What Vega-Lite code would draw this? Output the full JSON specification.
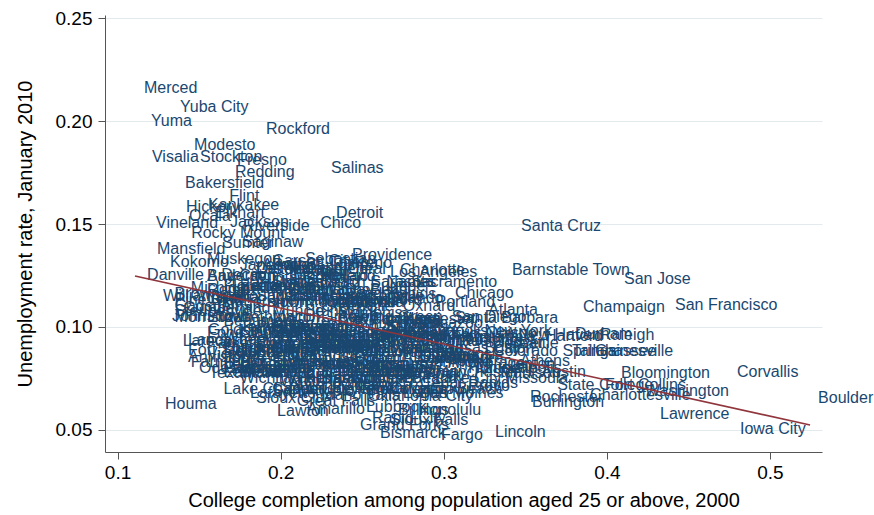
{
"$schema": "https://vega.github.io/schema/vega-lite/v6.json",
"width": 717, "height": 437,
"autosize": {"type": "none"},
"padding": {"left": 105, "top": 15, "right": 52, "bottom": 63},
"background": "white",
"config": {"view": {"stroke": null}, "font": "Liberation Sans"},
"layer": [
{"data": {"values": [
{"c":"Merced","x":0.1113,"y":0.2160},{"c":"Yuba City","x":0.1334,"y":0.2068},{"c":"Yuma","x":0.1156,"y":0.2000},{"c":"Rockford","x":0.1861,"y":0.1961},{"c":"Modesto","x":0.1420,"y":0.1883},{"c":"Visalia","x":0.1162,"y":0.1825},{"c":"Stockton","x":0.1457,"y":0.1825},{"c":"Fresno","x":0.1684,"y":0.1811},{"c":"Redding","x":0.1671,"y":0.1752},{"c":"Salinas","x":0.2260,"y":0.1772},{"c":"Bakersfield","x":0.1365,"y":0.1699},{"c":"Flint","x":0.1635,"y":0.1636},{"c":"Kankakee","x":0.1506,"y":0.1592},{"c":"Hickory","x":0.1371,"y":0.1583},{"c":"Ocala","x":0.1389,"y":0.1539},{"c":"Elkhart","x":0.1549,"y":0.1553},{"c":"Vineland","x":0.1187,"y":0.1505},{"c":"Jackson","x":0.1641,"y":0.1510},{"c":"Riverside","x":0.1720,"y":0.1490},{"c":"Rocky Mount","x":0.1402,"y":0.1456},{"c":"Detroit","x":0.2291,"y":0.1553},{"c":"Chico","x":0.2193,"y":0.1505},{"c":"Santa Cruz","x":0.3425,"y":0.1490},{"c":"Barnstable Town","x":0.3369,"y":0.1277},{"c":"San Jose","x":0.4056,"y":0.1233},{"c":"Champaign","x":0.3805,"y":0.1097},{"c":"San Francisco","x":0.4369,"y":0.1107},{"c":"Corvallis","x":0.4749,"y":0.0782},{"c":"Boulder","x":0.5246,"y":0.0655},{"c":"Lawrence","x":0.4277,"y":0.0578},{"c":"Iowa City","x":0.4767,"y":0.0505},{"c":"Lincoln","x":0.3265,"y":0.0490},{"c":"Fargo","x":0.2934,"y":0.0476},{"c":"Bismarck","x":0.2560,"y":0.0485},{"c":"Grand Forks","x":0.2438,"y":0.0524},{"c":"Sioux Falls","x":0.2622,"y":0.0549},{"c":"Rapid City","x":0.2511,"y":0.0558},{"c":"Lubbock","x":0.2474,"y":0.0612},{"c":"Honolulu","x":0.2793,"y":0.0597},{"c":"Billings","x":0.2671,"y":0.0597},{"c":"Lawton","x":0.1929,"y":0.0592},{"c":"Amarillo","x":0.2113,"y":0.0602},{"c":"Houma","x":0.1242,"y":0.0626},{"c":"Lafayette","x":0.1763,"y":0.0680},{"c":"Sioux City","x":0.1800,"y":0.0655},{"c":"Oklahoma City","x":0.2487,"y":0.0665},{"c":"Waco","x":0.1947,"y":0.0738},{"c":"Texarkana","x":0.1512,"y":0.0777},{"c":"Provo","x":0.3100,"y":0.0714},{"c":"Cedar Rapids","x":0.2806,"y":0.0728},{"c":"Albany","x":0.2793,"y":0.0782},{"c":"Anchorage","x":0.2977,"y":0.0825},{"c":"Athens","x":0.3419,"y":0.0835},{"c":"Missoula","x":0.3327,"y":0.0752},{"c":"Madison","x":0.3296,"y":0.0777},{"c":"Bloomington","x":0.4038,"y":0.0777},{"c":"State College","x":0.3646,"y":0.0718},{"c":"Fort Collins","x":0.3940,"y":0.0718},{"c":"Rochester","x":0.3480,"y":0.0660},{"c":"Burlington","x":0.3492,"y":0.0636},{"c":"Charlottesville","x":0.3848,"y":0.0670},{"c":"Washington","x":0.4185,"y":0.0689},{"c":"New Haven","x":0.3406,"y":0.0961},{"c":"Raleigh","x":0.3909,"y":0.0961},{"c":"Durham","x":0.3756,"y":0.0966},{"c":"Hartford","x":0.3572,"y":0.0956},{"c":"Gainesville","x":0.3878,"y":0.0883},{"c":"Tallahassee","x":0.3737,"y":0.0883},{"c":"Colorado Springs","x":0.3253,"y":0.0883},{"c":"Santa Barbara","x":0.3020,"y":0.1044},{"c":"Atlanta","x":0.3223,"y":0.1083},{"c":"Chicago","x":0.3020,"y":0.1165},{"c":"Providence","x":0.2389,"y":0.1350},{"c":"Charlotte","x":0.2683,"y":0.1277},{"c":"Los Angeles","x":0.2622,"y":0.1267},{"c":"Tampa","x":0.2254,"y":0.1311},{"c":"Mansfield","x":0.1193,"y":0.1379},{"c":"Saginaw","x":0.1714,"y":0.1413},{"c":"Sumter","x":0.1592,"y":0.1408},{"c":"Danville","x":0.1132,"y":0.1252},{"c":"Decatur","x":0.1586,"y":0.1252},{"c":"Mobile","x":0.2027,"y":0.1252},{"c":"Altoona","x":0.1837,"y":0.1301},{"c":"Kokomo","x":0.1273,"y":0.1316},{"c":"Williamsport","x":0.1230,"y":0.1150},{"c":"Johnstown","x":0.1285,"y":0.1053},{"c":"Goldsboro","x":0.1506,"y":0.0985},{"c":"Lancaster","x":0.1383,"y":0.0937},{"c":"Fort Smith","x":0.1383,"y":0.0888},{"c":"Anniston","x":0.1383,"y":0.0854},{"c":"Cumberland","x":0.1353,"y":0.1092},{"c":"Allentown","x":0.1776,"y":0.1189},
{"c":"Abilene","x":0.20,"y":0.072},{"c":"Akron","x":0.24,"y":0.112},{"c":"Albuquerque","x":0.27,"y":0.085},{"c":"Alexandria","x":0.17,"y":0.078},{"c":"Anderson","x":0.15,"y":0.125},{"c":"Appleton","x":0.21,"y":0.092},{"c":"Asheville","x":0.24,"y":0.088},{"c":"Atlantic City","x":0.19,"y":0.118},{"c":"Augusta","x":0.20,"y":0.096},{"c":"Austin","x":0.355,"y":0.078},{"c":"Baltimore","x":0.29,"y":0.085},{"c":"Bangor","x":0.21,"y":0.092},{"c":"Baton Rouge","x":0.22,"y":0.078},{"c":"Battle Creek","x":0.17,"y":0.120},{"c":"Bay City","x":0.15,"y":0.125},{"c":"Beaumont","x":0.16,"y":0.103},{"c":"Bellingham","x":0.27,"y":0.095},{"c":"Bend","x":0.25,"y":0.118},{"c":"Binghamton","x":0.23,"y":0.090},{"c":"Birmingham","x":0.24,"y":0.102},{"c":"Boise City","x":0.26,"y":0.098},{"c":"Boston","x":0.32,"y":0.090},{"c":"Bowling Green","x":0.23,"y":0.105},{"c":"Bremerton","x":0.25,"y":0.078},{"c":"Brownsville","x":0.13,"y":0.116},{"c":"Brunswick","x":0.21,"y":0.108},{"c":"Buffalo","x":0.24,"y":0.088},{"c":"Canton","x":0.18,"y":0.112},{"c":"Cape Coral","x":0.21,"y":0.128},{"c":"Carson City","x":0.19,"y":0.132},{"c":"Casper","x":0.19,"y":0.070},{"c":"Charleston","x":0.25,"y":0.095},{"c":"Chattanooga","x":0.20,"y":0.092},{"c":"Cheyenne","x":0.22,"y":0.070},{"c":"Cincinnati","x":0.25,"y":0.104},{"c":"Clarksville","x":0.17,"y":0.097},{"c":"Cleveland","x":0.23,"y":0.104},{"c":"Coeur d'Alene","x":0.19,"y":0.128},{"c":"Columbia","x":0.31,"y":0.095},{"c":"Columbus","x":0.28,"y":0.094},{"c":"Corpus Christi","x":0.18,"y":0.086},{"c":"Dallas","x":0.29,"y":0.086},{"c":"Davenport","x":0.21,"y":0.089},{"c":"Dayton","x":0.23,"y":0.113},{"c":"Deltona","x":0.18,"y":0.128},{"c":"Denver","x":0.325,"y":0.092},{"c":"Des Moines","x":0.28,"y":0.068},{"c":"Dothan","x":0.16,"y":0.088},{"c":"Dover","x":0.19,"y":0.089},{"c":"Dubuque","x":0.20,"y":0.070},{"c":"Duluth","x":0.22,"y":0.090},{"c":"Eau Claire","x":0.21,"y":0.078},{"c":"El Paso","x":0.19,"y":0.100},{"c":"Elizabethtown","x":0.15,"y":0.105},{"c":"Elmira","x":0.19,"y":0.087},{"c":"Erie","x":0.20,"y":0.092},{"c":"Eugene","x":0.25,"y":0.120},{"c":"Evansville","x":0.19,"y":0.083},{"c":"Fairbanks","x":0.24,"y":0.082},{"c":"Farmington","x":0.14,"y":0.083},{"c":"Fayetteville","x":0.18,"y":0.090},{"c":"Flagstaff","x":0.30,"y":0.095},{"c":"Florence","x":0.16,"y":0.120},{"c":"Fond du Lac","x":0.15,"y":0.097},{"c":"Fort Wayne","x":0.20,"y":0.118},{"c":"Fort Walton Beach","x":0.25,"y":0.070},{"c":"Gadsden","x":0.13,"y":0.110},{"c":"Glens Falls","x":0.19,"y":0.098},{"c":"Grand Junction","x":0.21,"y":0.094},{"c":"Grand Rapids","x":0.23,"y":0.116},{"c":"Great Falls","x":0.205,"y":0.064},{"c":"Greeley","x":0.22,"y":0.105},{"c":"Green Bay","x":0.21,"y":0.090},{"c":"Greensboro","x":0.23,"y":0.113},{"c":"Greenville","x":0.22,"y":0.110},{"c":"Gulfport","x":0.17,"y":0.080},{"c":"Hagerstown","x":0.16,"y":0.112},{"c":"Harrisburg","x":0.24,"y":0.082},{"c":"Harrisonburg","x":0.22,"y":0.075},{"c":"Hattiesburg","x":0.22,"y":0.080},{"c":"Holland","x":0.22,"y":0.125},{"c":"Hot Springs","x":0.17,"y":0.083},{"c":"Houston","x":0.27,"y":0.088},{"c":"Huntington","x":0.16,"y":0.090},{"c":"Huntsville","x":0.31,"y":0.080},{"c":"Idaho Falls","x":0.22,"y":0.067},{"c":"Indianapolis","x":0.27,"y":0.098},{"c":"Jacksonville","x":0.23,"y":0.115},{"c":"Janesville","x":0.17,"y":0.130},{"c":"Jefferson City","x":0.22,"y":0.078},{"c":"Johnson City","x":0.19,"y":0.095},{"c":"Jonesboro","x":0.17,"y":0.088},{"c":"Joplin","x":0.16,"y":0.085},{"c":"Kalamazoo","x":0.27,"y":0.102},{"c":"Kansas City","x":0.29,"y":0.090},{"c":"Kennewick","x":0.21,"y":0.075},{"c":"Killeen","x":0.19,"y":0.078},{"c":"Kingsport","x":0.17,"y":0.098},{"c":"Kingston","x":0.23,"y":0.092},{"c":"Knoxville","x":0.25,"y":0.090},{"c":"La Crosse","x":0.23,"y":0.075},{"c":"Lake Charles","x":0.16,"y":0.070},{"c":"Lakeland","x":0.165,"y":0.120},{"c":"Laredo","x":0.135,"y":0.093},{"c":"Las Cruces","x":0.24,"y":0.080},{"c":"Las Vegas","x":0.18,"y":0.128},{"c":"Lebanon","x":0.16,"y":0.082},{"c":"Lewiston","x":0.16,"y":0.078},{"c":"Lexington","x":0.28,"y":0.085},{"c":"Lima","x":0.15,"y":0.114},{"c":"Little Rock","x":0.26,"y":0.077},{"c":"Logan","x":0.27,"y":0.068},{"c":"Longview","x":0.16,"y":0.090},{"c":"Louisville","x":0.23,"y":0.112},{"c":"Lynchburg","x":0.21,"y":0.090},{"c":"Macon","x":0.19,"y":0.105},{"c":"Manchester","x":0.29,"y":0.078},{"c":"Medford","x":0.20,"y":0.127},{"c":"Memphis","x":0.23,"y":0.107},{"c":"Miami","x":0.22,"y":0.113},{"c":"Michigan City","x":0.14,"y":0.119},{"c":"Midland","x":0.23,"y":0.072},{"c":"Milwaukee","x":0.265,"y":0.096},{"c":"Minneapolis","x":0.315,"y":0.080},{"c":"Monroe","x":0.18,"y":0.092},{"c":"Montgomery","x":0.22,"y":0.097},{"c":"Morgantown","x":0.26,"y":0.070},{"c":"Morristown","x":0.13,"y":0.105},{"c":"Mount Vernon","x":0.21,"y":0.112},{"c":"Muncie","x":0.19,"y":0.108},{"c":"Muskegon","x":0.15,"y":0.133},{"c":"Myrtle Beach","x":0.19,"y":0.122},{"c":"Napa","x":0.27,"y":0.104},{"c":"Naples","x":0.26,"y":0.122},{"c":"Nashville","x":0.27,"y":0.090},{"c":"New Orleans","x":0.24,"y":0.070},{"c":"New York","x":0.32,"y":0.098},{"c":"Niles","x":0.20,"y":0.122},{"c":"Norwich","x":0.23,"y":0.085},{"c":"Ocean City","x":0.225,"y":0.115},{"c":"Odessa","x":0.145,"y":0.080},{"c":"Ogden","x":0.24,"y":0.085},{"c":"Olympia","x":0.28,"y":0.086},{"c":"Orlando","x":0.26,"y":0.114},{"c":"Oshkosh","x":0.20,"y":0.082},{"c":"Owensboro","x":0.16,"y":0.080},{"c":"Oxnard","x":0.27,"y":0.110},{"c":"Palm Bay","x":0.21,"y":0.118},{"c":"Panama City","x":0.19,"y":0.092},{"c":"Parkersburg","x":0.15,"y":0.092},{"c":"Pascagoula","x":0.16,"y":0.080},{"c":"Pensacola","x":0.22,"y":0.095},{"c":"Philadelphia","x":0.29,"y":0.093},{"c":"Phoenix","x":0.26,"y":0.102},{"c":"Pine Bluff","x":0.13,"y":0.113},{"c":"Pittsburgh","x":0.25,"y":0.082},{"c":"Pittsfield","x":0.27,"y":0.090},{"c":"Pocatello","x":0.22,"y":0.073},{"c":"Port St. Lucie","x":0.19,"y":0.130},{"c":"Portland","x":0.29,"y":0.112},{"c":"Poughkeepsie","x":0.27,"y":0.087},{"c":"Prescott","x":0.21,"y":0.103},{"c":"Pueblo","x":0.18,"y":0.100},{"c":"Punta Gorda","x":0.18,"y":0.124},{"c":"Racine","x":0.20,"y":0.115},{"c":"Reading","x":0.20,"y":0.097},{"c":"Reno","x":0.24,"y":0.131},{"c":"Richmond","x":0.28,"y":0.083},{"c":"Roanoke","x":0.22,"y":0.083},{"c":"Rome","x":0.15,"y":0.118},{"c":"Sacramento","x":0.275,"y":0.122},{"c":"Salem","x":0.20,"y":0.118},{"c":"Salisbury","x":0.22,"y":0.090},{"c":"Salt Lake City","x":0.27,"y":0.075},{"c":"San Angelo","x":0.19,"y":0.069},{"c":"San Antonio","x":0.23,"y":0.080},{"c":"San Diego","x":0.30,"y":0.105},{"c":"San Luis Obispo","x":0.28,"y":0.097},{"c":"Sandusky","x":0.18,"y":0.115},{"c":"Sarasota","x":0.25,"y":0.122},{"c":"Savannah","x":0.25,"y":0.094},{"c":"Scranton","x":0.20,"y":0.100},{"c":"Seattle","x":0.335,"y":0.092},{"c":"Sebastian","x":0.21,"y":0.133},{"c":"Sheboygan","x":0.19,"y":0.100},{"c":"Sherman","x":0.18,"y":0.088},{"c":"Shreveport","x":0.19,"y":0.082},{"c":"Spartanburg","x":0.19,"y":0.122},{"c":"Spokane","x":0.24,"y":0.097},{"c":"Springfield","x":0.25,"y":0.096},{"c":"St. Cloud","x":0.21,"y":0.091},{"c":"St. George","x":0.22,"y":0.098},{"c":"St. Joseph","x":0.17,"y":0.078},{"c":"St. Louis","x":0.26,"y":0.100},{"c":"Steubenville","x":0.13,"y":0.108},{"c":"Syracuse","x":0.26,"y":0.090},{"c":"Terre Haute","x":0.17,"y":0.100},{"c":"Toledo","x":0.22,"y":0.112},{"c":"Topeka","x":0.24,"y":0.070},{"c":"Trenton","x":0.33,"y":0.082},{"c":"Tucson","x":0.26,"y":0.093},{"c":"Tulsa","x":0.22,"y":0.083},{"c":"Tuscaloosa","x":0.21,"y":0.095},{"c":"Tyler","x":0.20,"y":0.085},{"c":"Utica","x":0.19,"y":0.090},{"c":"Valdosta","x":0.19,"y":0.098},{"c":"Vallejo","x":0.22,"y":0.125},{"c":"Victoria","x":0.15,"y":0.087},{"c":"Virginia Beach","x":0.24,"y":0.075},{"c":"Warner Robins","x":0.20,"y":0.082},{"c":"Wausau","x":0.18,"y":0.102},{"c":"Wenatchee","x":0.19,"y":0.113},{"c":"Wheeling","x":0.16,"y":0.094},{"c":"Wichita","x":0.25,"y":0.078},{"c":"Wichita Falls","x":0.17,"y":0.075},{"c":"Winchester","x":0.20,"y":0.075},{"c":"Winston-Salem","x":0.22,"y":0.100},{"c":"Worcester","x":0.27,"y":0.104},{"c":"Yakima","x":0.15,"y":0.114},{"c":"York","x":0.19,"y":0.097},{"c":"Youngstown","x":0.17,"y":0.115}
]},
"mark": {"type": "text", "align": "left", "baseline": "middle", "dx": 8, "fontSize": 16, "color": "#1a476f"},
"encoding": {
"x": {"field": "x", "type": "quantitative", "scale": {"domain": [0.0923, 0.5319], "nice": false, "zero": false},
"axis": {"title": "College completion among population aged 25 or above, 2000", "values": [0.1, 0.2, 0.3, 0.4, 0.5], "format": ".1f", "grid": false, "domainColor": "#555555", "tickColor": "#555555", "tickSize": 7, "labelFontSize": 19, "labelColor": "#000000", "labelPadding": 4, "labelFlush": false, "titleFontSize": 20, "titleFontWeight": "normal", "titleColor": "#000000", "titlePadding": 8}},
"y": {"field": "y", "type": "quantitative", "scale": {"domain": [0.0393, 0.2515], "nice": false, "zero": false},
"axis": {"title": "Unemployment rate, January 2010", "values": [0.05, 0.10, 0.15, 0.20, 0.25], "format": ".2f", "grid": true, "gridColor": "#e3eaee", "domainColor": "#555555", "tickColor": "#555555", "tickSize": 7, "labelFontSize": 19, "labelColor": "#000000", "labelPadding": 6, "labelAngle": 0, "labelFlush": false, "titleFontSize": 20, "titleFontWeight": "normal", "titleColor": "#000000", "titlePadding": 20}},
"text": {"field": "c", "type": "nominal"}
}},
{"data": {"values": [{"x": 0.1107, "y": 0.1248}, {"x": 0.5246, "y": 0.0524}]},
"mark": {"type": "line", "color": "#90353b", "strokeWidth": 1.6},
"encoding": {"x": {"field": "x", "type": "quantitative"}, "y": {"field": "y", "type": "quantitative"}}}
]
}
